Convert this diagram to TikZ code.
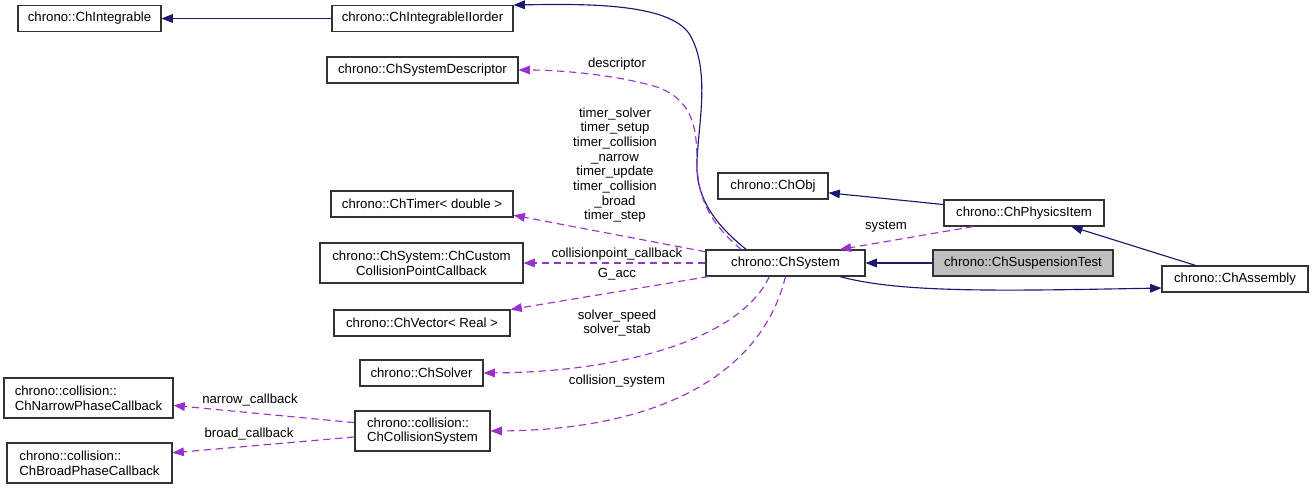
\documentclass[tikz,border=0pt]{standalone}
\usepackage{fontspec}
\setmainfont{Liberation Sans}
\usepackage{xcolor}
\usepackage{tikz}
\usetikzlibrary{arrows.meta}

\definecolor{inhblue}{RGB}{25,25,112}
\definecolor{usepurple}{RGB}{153,50,204}
\definecolor{boxgray}{RGB}{191,191,191}

\begin{document}
\begin{tikzpicture}[
    x=0.75pt, y=-0.75pt,
    cls/.style={rectangle, draw=black!80, line width=0.8pt, inner sep=0pt, minimum height=19.5pt, text centered, font=\fontsize{9.9}{11}\selectfont},
    cls2/.style={cls, minimum height=30pt, align=center},
    cls2l/.style={cls, minimum height=30pt, align=left},
    current/.style={cls, fill=boxgray},
    lbl/.style={inner sep=0pt, align=center, font=\fontsize{9.9}{11}\selectfont},
    inh/.style={draw=inhblue, line width=0.85pt, -{Triangle[length=8.5pt,width=6.5pt]}},
    mem/.style={draw=usepurple, line width=0.85pt, dash pattern=on 5.5pt off 3.5pt, -{Triangle[length=8.5pt,width=6.5pt]}},
  ]
    \useasboundingbox (0,0) rectangle (1312,489);

    % Classes
    \node[cls, minimum width=107.25pt] (integrable) at (89.5,18.5) {chrono::ChIntegrable};
    \node[cls, minimum width=135.75pt] (iiorder) at (422.5,18.5) {chrono::ChIntegrableIIorder};
    \node[cls, minimum width=143.25pt] (descriptor) at (422.5,70) {chrono::ChSystemDescriptor};
    \node[cls, minimum width=136.5pt] (timer) at (422,204) {chrono::ChTimer< double >};
    \node[cls2, minimum width=152.25pt] (callback) at (421.5,263) {chrono::ChSystem::ChCustom\\CollisionPointCallback};
    \node[cls, minimum width=132pt] (vector) at (422,323) {chrono::ChVector< Real >};
    \node[cls, minimum width=92.25pt] (solver) at (421.5,373) {chrono::ChSolver};
    \node[cls2l, minimum width=101.25pt] (collsys) at (422.5,431) {chrono::collision::\\ChCollisionSystem};
    \node[cls2l, minimum width=126.75pt] (narrow) at (88.5,398) {chrono::collision::\\ChNarrowPhaseCallback};
    \node[cls2l, minimum width=123.75pt] (broad) at (89.5,463) {chrono::collision::\\ChBroadPhaseCallback};
    \node[cls, minimum width=119.25pt] (system) at (785.5,263) {chrono::ChSystem};
    \node[cls, minimum width=82.5pt] (obj) at (773,186) {chrono::ChObj};
    \node[cls, minimum width=120pt] (physitem) at (1024,213) {chrono::ChPhysicsItem};
    \node[current, minimum width=135pt] (susptest) at (1023,263) {chrono::ChSuspensionTest};
    \node[cls, minimum width=109.5pt] (assembly) at (1235,279) {chrono::ChAssembly};

    % Inheritance
    \draw[inh] (iiorder) -- (integrable);
    \draw[inh] (system.161) .. controls (712,222) and (695,195) .. (697,160)
      .. controls (699,120) and (710,70) .. (690,35)
      .. controls (670,2) and (580,4) .. (iiorder.north east);
    \draw[inh] (physitem.174) -- (obj.-7);
    \draw[inh] (susptest) -- (system);
    \draw[inh] (assembly.161) -- (physitem.-16);
    \draw[inh] (system.-14) .. controls (900,293) and (1000,291) .. (assembly.187);

    % Members
    \draw[mem] (system.163) .. controls (712,225) and (697,200) .. (697,160)
      .. controls (697,120) and (688,100) .. (660,88)
      .. controls (620,75) and (560,70) .. (descriptor.east);
    \draw[mem] (system.172) -- (timer.-7);
    \draw[mem] (system) -- (callback);
    \draw[mem] (system.190) -- (vector.north east);
    \draw[mem] (system.220) .. controls (740,340) and (620,372) .. (solver.east);
    \draw[mem] (system.south) .. controls (760,380) and (650,430) .. (collsys.east);
    \draw[mem] (collsys.173) -- (narrow.-5);
    \draw[mem] (collsys.185) -- (broad.7);
    \draw[mem] (physitem.195) -- (system.14);

    % Labels
    \node[lbl] (ldescriptor) at (617,64) {descriptor};
    \node[lbl] (ltimer) at (615,165) {timer\_solver\\timer\_setup\\timer\_collision\\\_narrow\\timer\_update\\timer\_collision\\\_broad\\timer\_step};
    \node[lbl] (lcallback) at (617,254) {collisionpoint\_callback};
    \node[lbl] (lgacc) at (617,274) {G\_acc};
    \node[lbl] (lsolver) at (617,323) {solver\_speed\\solver\_stab};
    \node[lbl] (lcollsys) at (617,381) {collision\_system};
    \node[lbl] (lnarrow) at (250,400) {narrow\_callback};
    \node[lbl] (lbroad) at (249,434) {broad\_callback};
    \node[lbl] (lsystem) at (886,227) {system};

  \end{tikzpicture}
\end{document}
